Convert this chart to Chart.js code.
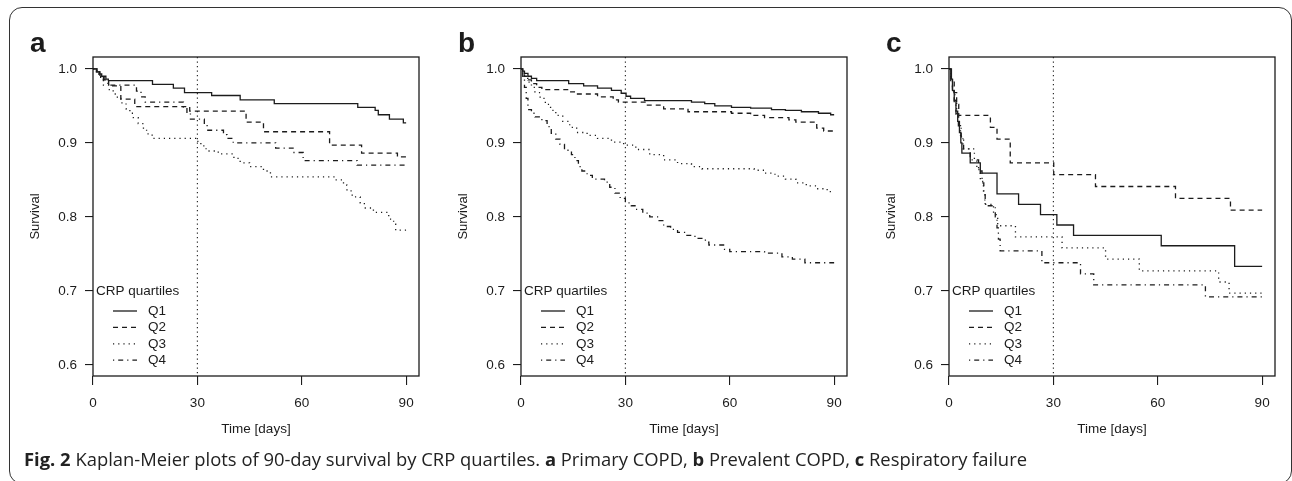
<!DOCTYPE html>
<html>
<head>
<meta charset="utf-8">
<script src="https://cdn.jsdelivr.net/npm/chart.js@4.4.0/dist/chart.umd.min.js"></script>
<style>
  html, body { margin: 0; padding: 0; background: #fff; }
  body { width: 1292px; height: 481px; position: relative; overflow: hidden; }
  .frame { position: absolute; left: 9px; top: 7px; width: 1283px; height: 477px; box-sizing: border-box;
           border: 1.5px solid #333; border-radius: 13px; }
  canvas { position: absolute; top: 0; }
  #caption { position: absolute; left: 24px; top: 449px; font-family: 'Open Sans', sans-serif; font-size: 18.4px;
             line-height: 20px; color: #222; white-space: nowrap; }
</style>
</head>
<body>
<div class="frame"></div>
<canvas id="panelA" width="428" height="481" style="left:0"></canvas>
<canvas id="panelB" width="428" height="481" style="left:428px"></canvas>
<canvas id="panelC" width="436" height="481" style="left:856px"></canvas>
<div id="caption"><b>Fig. 2</b> Kaplan-Meier plots of 90-day survival by CRP quartiles. <b>a</b> Primary COPD, <b>b</b> Prevalent COPD, <b>c</b> Respiratory failure</div>
<script>
// quartile names and axis ticks
const quartiles = ['Q1', 'Q2', 'Q3', 'Q4'];
const xTicks = [0, 30, 60, 90];
const yTicks = [0.6, 0.7, 0.8, 0.9, 1.0];
const cutoffDay = 30;

// [day, survival] pairs
// a Primary COPD
const primaryQ1 = [[0,1],[1,0.996],[1.8,0.993],[2.5,0.99],[3.7,0.986],[4.4,0.984],[17.1,0.979],[23.1,0.974],[26.3,0.968],[34.1,0.964],[42.3,0.958],[52.1,0.953],[76.1,0.948],[81.1,0.944],[82,0.938],[85.2,0.932],[89.2,0.927],[90,0.927]];
const primaryQ2 = [[0,1],[1.2,0.996],[2,0.99],[3,0.984],[4.5,0.977],[8,0.959],[12,0.949],[27.8,0.943],[44,0.928],[49,0.915],[68,0.897],[77.2,0.886],[87.5,0.881],[90,0.881]];
const primaryQ3 = [[0,1],[1.2,0.993],[2.2,0.985],[3,0.978],[4.5,0.972],[5.8,0.966],[7,0.96],[8,0.954],[9.5,0.946],[10.6,0.94],[11.6,0.934],[13,0.926],[14.5,0.918],[15.4,0.912],[17,0.906],[29.5,0.902],[31,0.896],[32.5,0.889],[36,0.885],[40.5,0.879],[42.3,0.873],[45,0.868],[49,0.862],[51,0.854],[69.5,0.85],[72,0.843],[73,0.835],[74.5,0.827],[76.8,0.819],[78,0.812],[80.6,0.806],[85,0.797],[86.4,0.79],[87,0.782],[90,0.782]];
const primaryQ4 = [[0,1],[1,0.996],[2.2,0.99],[3.2,0.985],[4.2,0.978],[12.5,0.97],[13.8,0.962],[15,0.955],[26,0.948],[27,0.94],[28,0.932],[32,0.925],[32.8,0.917],[37.5,0.911],[38.5,0.906],[40.3,0.9],[52.5,0.893],[57.5,0.887],[60.4,0.876],[75.9,0.87],[90,0.87]];

// b Prevalent COPD
const prevalentQ1 = [[0,1],[0.5,0.997],[1,0.994],[2,0.99],[3,0.987],[4.5,0.984],[13.7,0.98],[18,0.977],[22,0.974],[26,0.971],[28.8,0.967],[30.2,0.963],[31.5,0.96],[35.5,0.957],[49,0.955],[52.8,0.953],[55.7,0.95],[60.5,0.948],[66,0.947],[72,0.945],[76,0.944],[80.6,0.942],[85.5,0.94],[89,0.938],[90,0.938]];
const prevalentQ2 = [[0,1],[0.5,0.995],[1,0.99],[2,0.985],[3,0.98],[4.5,0.975],[6,0.972],[14,0.969],[16,0.966],[22,0.962],[26.5,0.958],[28,0.955],[36,0.951],[41,0.946],[48,0.942],[60.5,0.94],[66,0.937],[70,0.934],[77,0.931],[79,0.928],[85,0.92],[87,0.916],[90,0.915]];
const prevalentQ3 = [[0,1],[0.5,0.993],[1,0.987],[2,0.982],[3,0.975],[4,0.968],[5.5,0.96],[7,0.952],[8.5,0.944],[10,0.937],[12,0.929],[14,0.921],[16,0.914],[19,0.91],[22,0.906],[26,0.901],[29.5,0.897],[33,0.891],[37,0.884],[41,0.877],[45,0.872],[49,0.868],[52,0.865],[67,0.863],[70,0.859],[73,0.855],[76,0.851],[79,0.846],[82,0.842],[85,0.838],[88,0.834],[90,0.834]];
const prevalentQ4 = [[0,1],[0.5,0.99],[1,0.975],[1.5,0.96],[2,0.945],[3,0.94],[4,0.935],[6,0.93],[7.5,0.922],[8.7,0.913],[10,0.905],[11.2,0.898],[12.5,0.89],[14.5,0.884],[15.5,0.876],[16.5,0.868],[17.5,0.862],[19,0.856],[20.5,0.851],[24,0.847],[25.5,0.84],[27,0.832],[28.5,0.825],[30,0.819],[31.7,0.815],[33,0.81],[35,0.805],[37,0.8],[39.5,0.795],[41,0.787],[43,0.783],[45,0.779],[47,0.775],[50,0.771],[53,0.766],[54,0.762],[58.5,0.756],[60,0.753],[70,0.751],[75,0.746],[78,0.743],[81.6,0.738],[90,0.738]];

// c Respiratory failure
const respQ1 = [[0,1],[0.7,0.986],[1,0.971],[1.5,0.957],[2,0.943],[2.5,0.929],[3,0.914],[3.4,0.9],[3.7,0.886],[6.1,0.873],[9,0.859],[13.8,0.831],[20,0.817],[26.3,0.803],[31,0.789],[35.8,0.775],[61,0.761],[82.1,0.733],[90,0.733]];
const respQ2 = [[0,1],[0.5,0.984],[1.5,0.968],[2.2,0.952],[2.8,0.937],[11.9,0.921],[13.8,0.905],[17.6,0.873],[30.1,0.857],[42.1,0.841],[65.1,0.825],[80.9,0.809],[90,0.809]];
const respQ3 = [[0,1],[0.5,0.985],[1,0.97],[1.7,0.955],[2.2,0.94],[2.8,0.925],[3.3,0.91],[4,0.892],[7.3,0.877],[8,0.864],[9,0.848],[9.9,0.832],[10.3,0.817],[12.8,0.803],[14,0.788],[19.1,0.773],[32.5,0.758],[45,0.743],[54.7,0.727],[77.5,0.712],[80.5,0.697],[90,0.697]];
const respQ4 = [[0,1],[0.5,0.985],[1,0.969],[1.5,0.954],[2,0.938],[2.7,0.923],[3.5,0.908],[4.2,0.892],[6.1,0.877],[8.5,0.862],[9.5,0.846],[10,0.831],[10.4,0.815],[13.3,0.8],[13.8,0.785],[14.2,0.77],[14.7,0.754],[26.7,0.738],[37.8,0.723],[41.6,0.708],[73.7,0.692],[90,0.692]];

const ink = '#1c1c1c';
const family = '"Liberation Sans", Arial, Helvetica, sans-serif';
const dashes = [[], [5, 4], [1.2, 4], [1.2, 4, 5, 4]]; // R lty 1..4

// box, 30-day line, panel letter and legend
const panelDecor = {
  id: 'panelDecor',
  afterDatasetsDraw(chart, args, opts) {
    const { ctx, chartArea: a, scales: { x } } = chart;
    ctx.save();
    ctx.strokeStyle = ink;
    ctx.fillStyle = ink;

    const cx = x.getPixelForValue(cutoffDay);
    ctx.lineWidth = 1.1;
    ctx.setLineDash([1.2, 3.3]);
    ctx.beginPath();
    ctx.moveTo(cx, a.top);
    ctx.lineTo(cx, a.bottom);
    ctx.stroke();
    ctx.setLineDash([]);

    ctx.lineWidth = 1.3;
    ctx.strokeRect(a.left, a.top, a.right - a.left, a.bottom - a.top);

    ctx.font = 'bold 28px ' + family;
    ctx.textBaseline = 'alphabetic';
    ctx.fillText(opts.letter, a.left - 63, 52);

    ctx.font = '13.5px ' + family;
    ctx.textBaseline = 'middle';
    ctx.fillText('CRP quartiles', a.left + 3, a.top + 234);
    chart.data.datasets.forEach((ds, i) => {
      const y = a.top + 254 + i * 16.4;
      ctx.lineWidth = ds.borderWidth;
      ctx.setLineDash(ds.borderDash);
      ctx.beginPath();
      ctx.moveTo(a.left + 20, y);
      ctx.lineTo(a.left + 44, y);
      ctx.stroke();
      ctx.setLineDash([]);
      ctx.fillText(ds.label, a.left + 55, y);
    });
    ctx.restore();
  }
};

function makePanel(id, letter, series) {
  const canvas = document.getElementById(id);
  const font = { family: family, size: 13.5 };
  new Chart(canvas, {
    type: 'line',
    data: {
      datasets: series.map((s, i) => ({
        label: quartiles[i],
        data: s,
        stepped: true,
        borderColor: ink,
        borderWidth: 1.3,
        borderDash: dashes[i],
        pointRadius: 0,
        fill: false
      }))
    },
    options: {
      responsive: false,
      animation: false,
      layout: { padding: { left: 0, top: 57, right: canvas.width - 419, bottom: 0 } },
      plugins: {
        legend: { display: false },
        tooltip: { enabled: false },
        panelDecor: { letter: letter }
      },
      scales: {
        x: {
          type: 'linear',
          min: 0,
          max: 93.7,
          afterFit: s => { s.height = 105; },
          afterBuildTicks: s => { s.ticks = xTicks.map(v => ({ value: v })); },
          grid: { drawOnChartArea: false, drawTicks: true, tickLength: 9, color: ink, lineWidth: 1.1 },
          border: { display: false },
          ticks: { color: ink, font: font, padding: 10, maxRotation: 0, autoSkip: false, callback: v => String(v) },
          title: { display: true, text: 'Time [days]', color: ink, font: font, padding: { top: 0, bottom: 44 } }
        },
        y: {
          type: 'linear',
          min: 0.585,
          max: 1.016,
          afterFit: s => { s.width = 93; },
          afterBuildTicks: s => { s.ticks = yTicks.map(v => ({ value: v })); },
          grid: { drawOnChartArea: false, drawTicks: true, tickLength: 8, color: ink, lineWidth: 1.1 },
          border: { display: false },
          ticks: { color: ink, font: font, padding: 8, callback: v => v.toFixed(1) },
          title: { display: true, text: 'Survival', color: ink, font: { family: family, size: 13 }, padding: { top: 28, bottom: 0 } }
        }
      }
    },
    plugins: [panelDecor]
  });
}

makePanel('panelA', 'a', [primaryQ1, primaryQ2, primaryQ3, primaryQ4]);
makePanel('panelB', 'b', [prevalentQ1, prevalentQ2, prevalentQ3, prevalentQ4]);
makePanel('panelC', 'c', [respQ1, respQ2, respQ3, respQ4]);
</script>
</body>
</html>
